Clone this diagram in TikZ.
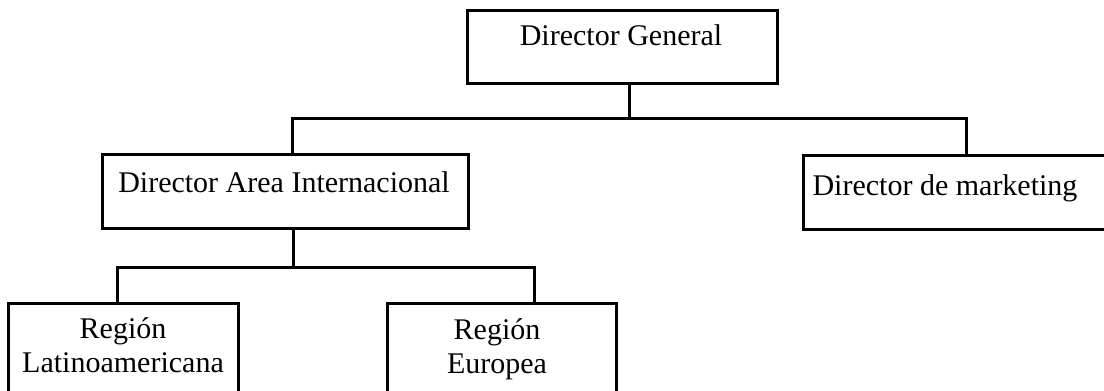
\documentclass[tikz,border=0pt]{standalone}
\usepackage{fontspec}
\setmainfont{Liberation Serif}
\begin{document}
\begin{tikzpicture}[x=0.5pt,y=-0.5pt,
  box/.style={draw=black, line width=1.5pt, rectangle, inner sep=0pt},
  lbl/.style={anchor=base, font=\fontsize{15pt}{17pt}\selectfont, inner sep=0pt},
  conn/.style={draw=black, line width=1.5pt, line cap=rect}]
\useasboundingbox (0,0) rectangle (1104,391);
\clip (0,0) rectangle (1104,391);
\fill[white] (0,0) rectangle (1104,391);
% boxes
\node[box, minimum width=155pt, minimum height=36.5pt] (dg) at (622,46.5) {};
\node[box, minimum width=183pt, minimum height=37pt] (dai) at (285,191) {};
\node[box, minimum width=163.5pt, minimum height=37pt] (mk) at (966.5,192) {};
\node[box, minimum width=115pt, minimum height=52pt] (lat) at (123,355) {};
\node[box, minimum width=114.5pt, minimum height=52pt] (eu) at (501.5,355) {};
% labels
\node[lbl] (dgt) at (621,46) {Director General};
\node[lbl] (dait) at (284,192) {Director Area Internacional};
\node[lbl] (mkt) at (945,195) {Director de marketing};
\node[lbl] (latt1) at (123,338) {Región};
\node[lbl] (latt2) at (123,372) {Latinoamericana};
\node[lbl] (eut1) at (497,339) {Región};
\node[lbl] (eut2) at (497,373) {Europea};
% connectors
\coordinate (tj) at (629,118);
\coordinate (t1) at (292,118);
\coordinate (t2) at (966,118);
\coordinate (bj) at (293,267);
\coordinate (b1) at (117,267);
\coordinate (b2) at (534,267);
\draw[conn] (dg.south -| tj) -- (tj);
\draw[conn] (dai.north -| t1) -- (t1) -- (t2) -- (mk.north -| t2);
\draw[conn] (dai.south -| bj) -- (bj);
\draw[conn] (lat.north -| b1) -- (b1) -- (b2) -- (eu.north -| b2);
\end{tikzpicture}
\end{document}
